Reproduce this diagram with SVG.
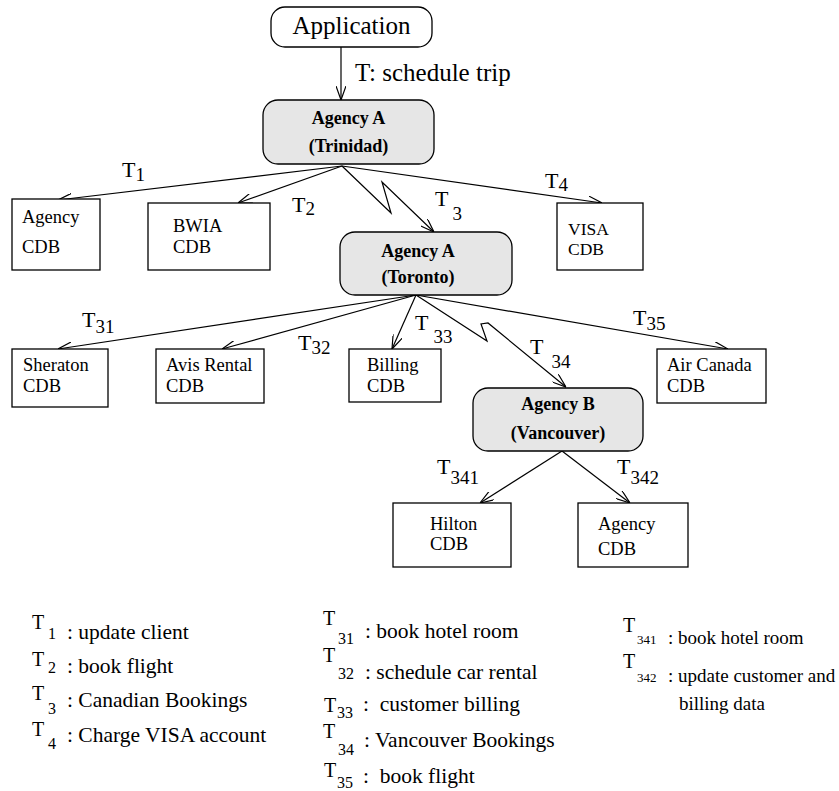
<svg xmlns="http://www.w3.org/2000/svg" width="839" height="791" viewBox="0 0 839 791">
<defs>
<marker id="arr" viewBox="0 0 14 10" refX="14" refY="5" markerWidth="14" markerHeight="10" markerUnits="userSpaceOnUse" orient="auto">
<path d="M0,0 L14,5 L0,10" fill="none" stroke="#000" stroke-width="1.2"/>
</marker>
<style>
text{font-family:"Liberation Serif","Times New Roman",serif;fill:#000}
.box{fill:#fff;stroke:#000;stroke-width:1.3}
.ag{fill:#e6e6e6;stroke:#000;stroke-width:1.3}
.lbl{font-size:18.5px}
.agt{font-size:18px;font-weight:bold;text-anchor:middle}
.big{font-size:25px}
.T{font-size:22px}
.s{font-size:19px}
.e{fill:none;stroke:#000;stroke-width:1.2;marker-end:url(#arr)}
.lg{font-size:21.5px}
.lgT{font-size:20px}
.lgs{font-size:16px}
.lg3{font-size:19px}
.lg3s{font-size:13px}
</style>
</defs>
<rect width="839" height="791" fill="#fff"/>

<g id="connectors">
<line class="e" x1="341" y1="47" x2="341" y2="100"/>
<line class="e" x1="342" y1="166" x2="58" y2="200"/>
<line class="e" x1="342" y1="166" x2="238" y2="203"/>
<polyline class="e" points="342,166 391,213 382,182 434,232"/>
<line class="e" x1="342" y1="166" x2="602" y2="203"/>
<line class="e" x1="416" y1="295" x2="58" y2="349"/>
<line class="e" x1="416" y1="295" x2="222" y2="349"/>
<line class="e" x1="416" y1="295" x2="392" y2="349"/>
<polyline class="e" points="416,295 487,341 481,324 488,323 566,387"/>
<line class="e" x1="416" y1="295" x2="728" y2="349"/>
<line class="e" x1="562" y1="451" x2="480" y2="503"/>
<line class="e" x1="562" y1="451" x2="630" y2="503"/>
</g>

<g id="edge-labels">
<text class="big" x="355" y="81">T: schedule trip</text>
<text class="T" x="122" y="177">T<tspan class="s" dy="4">1</tspan></text>
<text class="T" x="292" y="212">T<tspan class="s" dy="3">2</tspan></text>
<text class="T" x="435" y="206">T<tspan class="s" dx="4" dy="14">3</tspan></text>
<text class="T" x="545" y="188">T<tspan class="s" dy="3">4</tspan></text>
<text class="T" x="82" y="327">T<tspan class="s" dy="6">31</tspan></text>
<text class="T" x="298" y="350">T<tspan class="s" dy="4">32</tspan></text>
<text class="T" x="415" y="330">T<tspan class="s" dx="5" dy="13">33</tspan></text>
<text class="T" x="530" y="354">T<tspan class="s" dx="8" dy="14">34</tspan></text>
<text class="T" x="633" y="325">T<tspan class="s" dy="5">35</tspan></text>
<text class="T" x="437" y="474">T<tspan class="s" dy="10">341</tspan></text>
<text class="T" x="617" y="474">T<tspan class="s" dy="10">342</tspan></text>
</g>

<g id="application">
<rect class="box" x="271" y="7" width="161" height="40" rx="14"/>
<text class="big" x="351.5" y="34" text-anchor="middle">Application</text>
</g>

<g id="agency-trinidad">
<rect class="ag" x="263" y="100" width="171" height="64" rx="15"/>
<text class="agt" x="348.5" y="124">Agency A</text>
<text class="agt" x="348.5" y="152">(Trinidad)</text>
</g>

<g id="agency-cdb-1">
<rect class="box" x="12" y="199" width="88" height="71"/>
<text class="lbl" x="22" y="223">Agency</text>
<text class="lbl" x="22" y="253">CDB</text>
</g>

<g id="bwia-cdb">
<rect class="box" x="148" y="203" width="122" height="67"/>
<text class="lbl" x="173" y="232">BWIA</text>
<text class="lbl" x="173" y="253">CDB</text>
</g>

<g id="visa-cdb">
<rect class="box" x="557" y="203" width="86" height="67"/>
<text x="568" y="235" style="font-size:17.5px">VISA</text>
<text x="568" y="255" style="font-size:17.5px">CDB</text>
</g>

<g id="agency-toronto">
<rect class="ag" x="340" y="232" width="172" height="63" rx="15"/>
<text class="agt" x="418" y="257">Agency A</text>
<text class="agt" x="418" y="283">(Toronto)</text>
</g>

<g id="sheraton-cdb">
<rect class="box" x="12" y="349" width="96" height="58"/>
<text class="lbl" x="23" y="371">Sheraton</text>
<text class="lbl" x="23" y="392">CDB</text>
</g>

<g id="avis-cdb">
<rect class="box" x="156" y="349" width="108" height="54"/>
<text class="lbl" x="166" y="371">Avis Rental</text>
<text class="lbl" x="166" y="392">CDB</text>
</g>

<g id="billing-cdb">
<rect class="box" x="349" y="349" width="92" height="53"/>
<text class="lbl" x="367" y="371">Billing</text>
<text class="lbl" x="367" y="392">CDB</text>
</g>

<g id="aircanada-cdb">
<rect class="box" x="657" y="349" width="109" height="54"/>
<text class="lbl" x="667" y="371">Air Canada</text>
<text class="lbl" x="667" y="392">CDB</text>
</g>

<g id="agency-vancouver">
<rect class="ag" x="473" y="388" width="170" height="63" rx="15"/>
<text class="agt" x="558" y="410">Agency B</text>
<text class="agt" x="558" y="439">(Vancouver)</text>
</g>

<g id="hilton-cdb">
<rect class="box" x="393" y="503" width="118" height="64"/>
<text class="lbl" x="430" y="530">Hilton</text>
<text class="lbl" x="430" y="550">CDB</text>
</g>

<g id="agency-cdb-2">
<rect class="box" x="578" y="503" width="110" height="64"/>
<text class="lbl" x="598" y="530">Agency</text>
<text class="lbl" x="598" y="555">CDB</text>
</g>

<g id="legend">
<text class="lgT" x="32" y="629">T</text><text class="lgs" x="48" y="639">1</text><text class="lg" x="67" y="639">: update client</text>
<text class="lgT" x="32" y="666">T</text><text class="lgs" x="48" y="673">2</text><text class="lg" x="67" y="673">: book flight</text>
<text class="lgT" x="32" y="700">T</text><text class="lgs" x="48" y="714">3</text><text class="lg" x="67" y="707">: Canadian Bookings</text>
<text class="lgT" x="32" y="736">T</text><text class="lgs" x="48" y="749">4</text><text class="lg" x="67" y="742">: Charge VISA account</text>

<text class="lgT" x="323" y="625">T</text><text class="lgs" x="338" y="644">31</text><text class="lg" x="365" y="638">: book hotel room</text>
<text class="lgT" x="323" y="662">T</text><text class="lgs" x="338" y="679">32</text><text class="lg" x="365" y="679">: schedule car rental</text>
<text class="lgT" x="324" y="712">T</text><text class="lgs" x="337" y="718">33</text><text class="lg" x="363" y="711" xml:space="preserve">:  customer billing</text>
<text class="lgT" x="323" y="738">T</text><text class="lgs" x="338" y="755">34</text><text class="lg" x="364" y="747">: Vancouver Bookings</text>
<text class="lgT" x="324" y="777">T</text><text class="lgs" x="337" y="788">35</text><text class="lg" x="363" y="783" xml:space="preserve">:  book flight</text>

<text class="lgT" x="623" y="632">T</text><text class="lg3s" x="637" y="644">341</text><text class="lg3" x="668" y="644">: book hotel room</text>
<text class="lgT" x="623" y="668">T</text><text class="lg3s" x="637" y="682">342</text><text class="lg3" x="668" y="682">: update customer and</text>
<text class="lg3" x="679" y="710">billing data</text>
</g>
</svg>
